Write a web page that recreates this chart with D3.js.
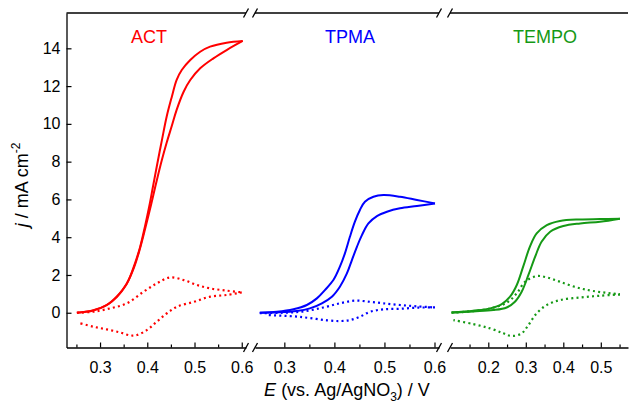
<!DOCTYPE html>
<html><head><meta charset="utf-8">
<script src="https://cdn.jsdelivr.net/npm/d3@7"></script>
<style>
body{margin:0;background:#fff}
svg{display:block}
text{font-family:"Liberation Sans",Arial,Helvetica,sans-serif;fill:#000}
</style>
</head><body><svg id="c" width="630" height="405"></svg>
<script>
// ---------------- data ----------------
const panelNames = ["ACT", "TPMA", "TEMPO"];
const yTickValues = [0, 2, 4, 6, 8, 10, 12, 14];
const actMajorTicks = [0.3, 0.4, 0.5, 0.6];
const actMinorTicks = [0.25, 0.35, 0.45, 0.55];
const tpmaMajorTicks = [0.3, 0.4, 0.5, 0.6];
const tpmaMinorTicks = [0.35, 0.45, 0.55];
const tempoMajorTicks = [0.2, 0.3, 0.4, 0.5];
const tempoMinorTicks = [0.15, 0.25, 0.35, 0.45, 0.55];

// ACT solid CV: forward (anodic) and reverse branches, [E, j]
const actSolidFwd = [[0.251,0.0],[0.286,0.12],[0.314,0.40],[0.336,0.84],[0.356,1.52],[0.372,2.40],[0.384,3.35],[0.394,4.30],[0.403,5.20],[0.413,6.25],[0.421,7.10],[0.431,8.10],[0.441,9.00],[0.452,9.90],[0.462,10.73],[0.477,11.70],[0.491,12.32],[0.512,12.94],[0.540,13.47],[0.568,13.91],[0.602,14.39]];
const actSolidRev = [[0.602,14.39],[0.568,14.30],[0.533,14.09],[0.512,13.82],[0.491,13.38],[0.473,12.85],[0.462,12.32],[0.452,11.44],[0.441,10.38],[0.431,9.14],[0.420,7.73],[0.412,6.67],[0.404,5.61],[0.395,4.56],[0.385,3.50],[0.374,2.62],[0.357,1.55],[0.335,0.85],[0.314,0.41],[0.286,0.14],[0.251,0.0]];
// ACT dotted CV
const actDotFwd = [[0.251,0.0],[0.286,0.055],[0.321,0.23],[0.357,0.50],[0.392,1.11],[0.420,1.55],[0.448,1.87],[0.477,1.73],[0.505,1.47],[0.533,1.29],[0.568,1.17],[0.600,1.08]];
const actDotRev = [[0.600,1.08],[0.568,0.94],[0.533,0.85],[0.499,0.58],[0.463,0.32],[0.441,-0.04],[0.420,-0.48],[0.399,-0.92],[0.378,-1.18],[0.364,-1.20],[0.342,-1.04],[0.314,-0.88],[0.286,-0.74],[0.258,-0.56]];

// TPMA solid CV
const tpmaSolidFwd = [[0.251,0.0],[0.291,0.02],[0.325,0.09],[0.351,0.23],[0.375,0.50],[0.395,0.85],[0.411,1.38],[0.425,2.08],[0.435,2.79],[0.445,3.49],[0.455,4.11],[0.468,4.73],[0.485,5.12],[0.505,5.35],[0.531,5.53],[0.565,5.65],[0.601,5.79]];
const tpmaSolidRev = [[0.601,5.79],[0.565,5.97],[0.531,6.14],[0.498,6.23],[0.478,6.14],[0.461,5.88],[0.451,5.44],[0.441,4.82],[0.431,4.02],[0.421,3.14],[0.411,2.44],[0.398,1.73],[0.381,1.20],[0.365,0.76],[0.345,0.41],[0.318,0.18],[0.285,0.05],[0.251,0.0]];
// TPMA dotted CV
const tpmaDotFwd = [[0.251,-0.02],[0.298,0.0],[0.338,0.07],[0.378,0.28],[0.411,0.50],[0.441,0.64],[0.471,0.58],[0.498,0.50],[0.531,0.41],[0.565,0.34],[0.601,0.28]];
const tpmaDotRev = [[0.601,0.28],[0.565,0.27],[0.531,0.21],[0.498,0.18],[0.471,0.05],[0.451,-0.21],[0.431,-0.39],[0.411,-0.44],[0.385,-0.40],[0.351,-0.28],[0.318,-0.19],[0.265,-0.12]];

// TEMPO solid CV
const tempoSolidFwd = [[0.102,0.0],[0.160,0.07],[0.213,0.14],[0.249,0.28],[0.271,0.58],[0.289,1.11],[0.307,2.00],[0.325,2.97],[0.342,3.76],[0.365,4.29],[0.400,4.59],[0.445,4.73],[0.498,4.82],[0.551,4.98]];
const tempoSolidRev = [[0.551,4.98],[0.498,4.96],[0.445,4.94],[0.391,4.86],[0.356,4.64],[0.329,4.20],[0.311,3.50],[0.293,2.44],[0.276,1.47],[0.258,0.85],[0.236,0.46],[0.205,0.23],[0.160,0.11],[0.102,0.02]];
// TEMPO dotted CV
const tempoDotFwd = [[0.102,0.0],[0.160,0.09],[0.205,0.23],[0.249,0.53],[0.276,1.03],[0.298,1.64],[0.329,1.94],[0.356,1.87],[0.391,1.64],[0.436,1.34],[0.480,1.15],[0.551,0.97]];
const tempoDotRev = [[0.551,0.97],[0.498,0.90],[0.445,0.81],[0.391,0.67],[0.356,0.41],[0.329,-0.03],[0.307,-0.65],[0.289,-1.09],[0.262,-1.23],[0.240,-1.09],[0.205,-0.83],[0.160,-0.60],[0.107,-0.39]];

// ---------------- layout ----------------
const plotTop = 13, plotBottom = 347.5, plotLeft = 66.5, plotRight = 628;
const panelLayout = [
  {domain:[0.229,0.609], range:[plotLeft,246], color:"#ff0000", major:actMajorTicks, minor:actMinorTicks,
   solid:[actSolidFwd, actSolidRev], dotted:[actDotFwd, actDotRev], titleX:149},
  {domain:[0.2414,0.609], range:[255,439], color:"#0000ff", major:tpmaMajorTicks, minor:tpmaMinorTicks,
   solid:[tpmaSolidFwd, tpmaSolidRev], dotted:[tpmaDotFwd, tpmaDotRev], titleX:350},
  {domain:[0.0979,0.5725], range:[450,plotRight], color:"#159915", major:tempoMajorTicks, minor:tempoMinorTicks,
   solid:[tempoSolidFwd, tempoSolidRev], dotted:[tempoDotFwd, tempoDotRev], titleX:545}
];

const svg = d3.select("#c");
const y = d3.scaleLinear().domain([-1.84, 15.87]).range([plotBottom, plotTop]);
const fontTick = 16;
const ff = '"Liberation Sans",Arial,sans-serif';

// y axis
const yAxis = d3.axisLeft(y).tickValues(yTickValues).tickFormat(d3.format("d"))
  .tickSize(-5).tickSizeOuter(0).tickPadding(6);
const gy = svg.append("g").attr("transform", `translate(${plotLeft},0)`).call(yAxis);
gy.select(".domain").attr("stroke", "#000").attr("stroke-width", 1.3);
gy.selectAll(".tick line").attr("stroke-width", 1.2);
gy.selectAll(".tick text").style("font-size", fontTick + "px").style("font-family", ff);

panelLayout.forEach((p, i) => {
  const x = d3.scaleLinear().domain(p.domain).range(p.range);
  const ax = d3.axisBottom(x).tickValues(p.major).tickFormat(d3.format(".1f"))
    .tickSize(-5).tickSizeOuter(0).tickPadding(14);
  const g = svg.append("g").attr("transform", `translate(0,${plotBottom})`).call(ax);
  g.select(".domain").attr("stroke", "#000").attr("stroke-width", 1.3);
  g.selectAll(".tick line").attr("stroke-width", 1.2);
  g.selectAll(".tick text").style("font-size", fontTick + "px").style("font-family", ff);
  const axm = d3.axisBottom(x).tickValues(p.minor).tickFormat("").tickSize(-3).tickSizeOuter(0);
  const gm = svg.append("g").attr("transform", `translate(0,${plotBottom})`).call(axm);
  gm.select(".domain").remove();
  gm.selectAll(".tick line").attr("stroke-width", 1.2);
  svg.append("line").attr("x1", p.range[0]).attr("x2", p.range[1])
    .attr("y1", plotTop).attr("y2", plotTop).attr("stroke", "#000").attr("stroke-width", 1.3);

  const slash = (cx, cy) => svg.append("line")
    .attr("x1", cx - 2.5).attr("y1", cy + 4.5).attr("x2", cx + 2.5).attr("y2", cy - 4.5)
    .attr("stroke", "#000").attr("stroke-width", 1.3);
  if (i > 0) { slash(p.range[0], plotTop); slash(p.range[0], plotBottom); }
  if (i < panelLayout.length - 1) { slash(p.range[1], plotTop); slash(p.range[1], plotBottom); }

  const line = d3.line().x(d => x(d[0])).y(d => y(d[1])).curve(d3.curveCatmullRom.alpha(0.5));
  p.solid.forEach(s => svg.append("path").attr("d", line(s)).attr("fill", "none")
    .attr("stroke", p.color).attr("stroke-width", 2).attr("stroke-linejoin", "round"));
  p.dotted.forEach(s => svg.append("path").attr("d", line(s)).attr("fill", "none")
    .attr("stroke", p.color).attr("stroke-width", 2.2).attr("stroke-dasharray", "2,3.2"));

  svg.append("text").attr("x", p.titleX).attr("y", 43).attr("text-anchor", "middle")
    .style("font-size", "18px").style("fill", p.color).text(panelNames[i]);
});

// y axis label
const yl = svg.append("text").attr("transform", `translate(28,185) rotate(-90)`)
  .attr("text-anchor", "middle").style("font-size", "18px");
yl.append("tspan").style("font-style", "italic").text("j");
yl.append("tspan").text(" / mA cm");
yl.append("tspan").attr("dy", -8).style("font-size", "12px").text("-2");

// x axis label
const xl = svg.append("text").attr("x", 347).attr("y", 396).attr("text-anchor", "middle").style("font-size", "18px");
xl.append("tspan").style("font-style", "italic").text("E");
xl.append("tspan").text(" (vs. Ag/AgNO");
xl.append("tspan").attr("dy", 5).style("font-size", "12px").text("3");
xl.append("tspan").attr("dy", -5).text(") / V");
</script>
</body></html>
